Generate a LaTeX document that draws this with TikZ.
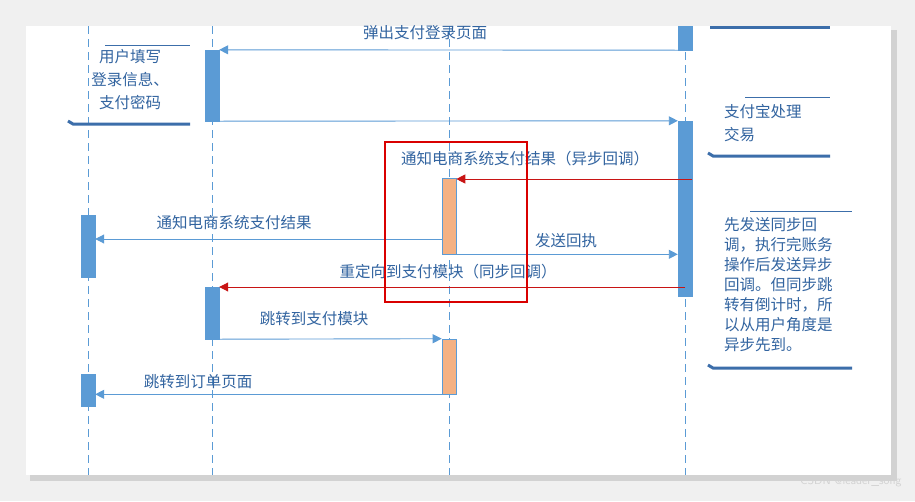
\documentclass[tikz,border=0pt]{standalone}
\usepackage{fontspec}
\newfontfamily\cjk{Noto Sans CJK SC}
\usetikzlibrary{arrows.meta}
\definecolor{lb}{RGB}{91,155,213}
\definecolor{txt}{RGB}{50,100,160}
\definecolor{nb}{RGB}{60,110,170}
\definecolor{org}{RGB}{244,177,131}
\definecolor{rd}{RGB}{200,20,20}
\begin{document}
\begin{tikzpicture}[x=1pt,y=-1pt,
  life/.style={lb,dashed,dash pattern=on 8pt off 5pt,line width=0.9pt},
  act/.style={fill=lb,draw=lb,minimum width=14pt,inner sep=0},
  oact/.style={fill=org,draw=lb,line width=0.6pt,minimum width=14pt,inner sep=0},
  msg/.style={lb,line width=0.9pt,-{Triangle[length=9pt,width=9pt]}},
  rmsg/.style={rd,line width=0.9pt,-{Triangle[length=9pt,width=9pt]}},
  lbl/.style={font=\cjk\fontsize{15.5}{17}\selectfont,text=txt,inner sep=1pt},
  ntxt/.style={font=\cjk\fontsize{15.5}{20}\selectfont,text=txt,align=left,anchor=north west,inner sep=0pt},
  thin/.style={nb,line width=0.8pt},
  thick/.style={nb,line width=3pt}]
\useasboundingbox (0,0) rectangle (915,501);
\fill[gray!12] (0,0) rectangle (915,501);
\fill[gray!35] (30,30) rectangle (897,481);
\fill[white] (26,26) rectangle (891,475);
\foreach \x in {88,212,449,685}{\draw[life] (\x,26) -- (\x,475);}
\node[act,minimum height=24pt] (a4a) at (685,38) {};
\node[act,minimum height=175pt] (a4b) at (685,208.5) {};
\node[act,minimum height=71pt] (a2a) at (212,85.5) {};
\node[act,minimum height=52pt] (a2b) at (212,313) {};
\node[act,minimum height=62pt] (a1a) at (88,246) {};
\node[act,minimum height=32pt] (a1b) at (88,390) {};
\node[oact,minimum height=76pt] (o1) at (449,216) {};
\node[oact,minimum height=55pt] (o2) at (449,366.5) {};
\coordinate (r1) at (692,179);
\coordinate (r2) at (685,287);
\draw[msg] (a4a.south west) -- (a2a.north east);
\node[lbl] (t1) at (425,33) {弹出支付登录页面};
\draw[msg] (a2a.south east) -- (a4b.north west);
\draw[rmsg] (r1) -- (r1 -| o1.east);
\node[lbl] (t2) at (525,159) {通知电商系统支付结果（异步回调）};
\draw[msg] (o1.west |- a1a) ++(0,-7) coordinate (m1) (m1) -- (m1 -| a1a.east);
\node[lbl] (t3) at (234,223) {通知电商系统支付结果};
\draw[msg] (o1.south east) -- (o1.south -| a4b.west);
\node[lbl] (t4) at (566,241) {发送回执};
\draw[rmsg] (r2) -- (r2 -| a2b.east);
\node[lbl] (t5) at (448,272) {重定向到支付模块（同步回调）};
\draw[msg] (a2b.south east) -- (o2.north west);
\node[lbl] (t6) at (314,319) {跳转到支付模块};
\draw[msg] (o2.south west) -- (o2.south -| a1b.east);
\node[lbl] (t7) at (198,382) {跳转到订单页面};
\draw[red!85!black,line width=1.6pt] (385,142) rectangle (527,302);
\draw[thick] (710,27) -- (830,27);
\draw[thin] (105,45) -- (190,45);
\node[ntxt,anchor=north,align=center,font=\cjk\fontsize{15.5}{23}\selectfont] (n1) at (130,49) {用户填写\\登录信息、\\支付密码};
\draw[thick] (68,121) -- (73,124) -- (190,124);
\draw[thin] (745,97) -- (830,97);
\node[ntxt,font=\cjk\fontsize{15.5}{23}\selectfont] (n2) at (724,104) {支付宝处理\\交易};
\draw[thick] (708,153) -- (713,156) -- (830,156);
\draw[thin] (750,211) -- (852,211);
\node[ntxt] (n3) at (724,217) {先发送同步回\\调，执行完账务\\操作后发送异步\\回调。但同步跳\\转有倒计时，所\\以从用户角度是\\异步先到。};
\draw[thick] (708,365) -- (713,368) -- (852,368);
\node[font=\sffamily\fontsize{12}{13}\selectfont,text=gray!35,anchor=east] (wm) at (905,481) {CSDN @leader\_song};
\end{tikzpicture}
\end{document}
